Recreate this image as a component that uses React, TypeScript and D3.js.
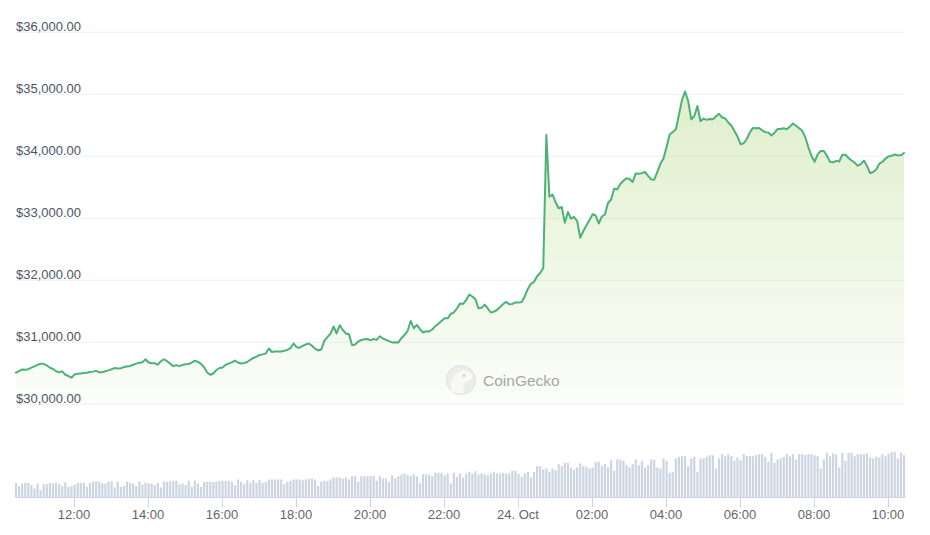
import React from 'react';
import * as d3 from 'd3';

// BTC price (USD), 5-minute steps starting 23 Oct 10:26 (UTC-like clock)
const prices: number[] = [
  30510, 30537, 30563, 30556, 30566, 30590, 30613, 30637, 30655, 30652,
  30626, 30592, 30569, 30532, 30516, 30531, 30477, 30456, 30429, 30482,
  30492, 30498, 30503, 30508, 30521, 30527, 30539, 30515, 30516, 30534,
  30547, 30565, 30584, 30579, 30581, 30600, 30611, 30618, 30639, 30656,
  30669, 30679, 30727, 30674, 30661, 30661, 30640, 30694, 30727, 30695,
  30656, 30615, 30632, 30615, 30635, 30647, 30650, 30671, 30703, 30684,
  30653, 30598, 30513, 30476, 30497, 30553, 30585, 30595, 30637, 30660,
  30676, 30706, 30674, 30658, 30666, 30682, 30718, 30747, 30769, 30795,
  30805, 30819, 30900, 30844, 30853, 30853, 30850, 30863, 30876, 30905,
  30981, 30921, 30913, 30942, 30968, 30979, 30944, 30897, 30868, 30885,
  31024, 31082, 31140, 31255, 31142, 31276, 31198, 31142, 31129, 30952,
  30965, 31013, 31037, 31050, 31053, 31032, 31053, 31039, 31098, 31061,
  31040, 31018, 30998, 31002, 30998, 31066, 31118, 31182, 31344, 31227,
  31279, 31215, 31158, 31177, 31174, 31206, 31260, 31298, 31344, 31387,
  31387, 31458, 31481, 31545, 31624, 31618, 31682, 31769, 31739, 31694,
  31548, 31556, 31608, 31547, 31481, 31494, 31521, 31569, 31618, 31652,
  31613, 31618, 31645, 31640, 31650, 31740, 31860, 31944, 31973, 32066,
  32118, 32198, 34344, 33348, 33384, 33258, 33163, 33182, 32929, 33102,
  32994, 33021, 32956, 32687, 32795, 32884, 32973, 33065, 33045, 32916,
  33029, 33061, 33247, 33303, 33476, 33469, 33553, 33605, 33647, 33634,
  33585, 33724, 33718, 33729, 33750, 33684, 33627, 33623, 33747, 33879,
  33964, 34150, 34352, 34392, 34432, 34666, 34908, 35045, 34892, 34598,
  34650, 34811, 34565, 34608, 34587, 34602, 34598, 34642, 34685, 34629,
  34610, 34545, 34497, 34410, 34319, 34195, 34211, 34279, 34384, 34458,
  34452, 34456, 34419, 34390, 34382, 34337, 34381, 34440, 34439, 34453,
  34437, 34479, 34529, 34492, 34453, 34411, 34305, 34145, 34005, 33911,
  34031, 34085, 34085, 34008, 33911, 33902, 33926, 33915, 34027, 34027,
  33973, 33932, 33898, 33848, 33873, 33931, 33844, 33731, 33747, 33787,
  33881, 33911, 33964, 33998, 34010, 34029, 34015, 34016, 34053,
];

// Volume bars (billions USD, rolling), same time steps
const volumes: number[] = [
  14.7, 11.3, 14, 14.7, 14.7, 12.3, 9, 14, 7.3, 13.3,
  13.3, 14.7, 14, 14.7, 13.3, 11.3, 15.3, 10.7, 11.3, 13,
  14.7, 14.7, 14.7, 10.7, 14.7, 16, 16, 16, 14, 14,
  16, 16, 10, 16, 10.7, 11.3, 15.7, 14.7, 14, 11.3,
  16, 13, 14.7, 14, 14, 12.3, 14.7, 10, 16, 15.7,
  16, 16.7, 16.7, 13, 14, 12.3, 16.7, 10.7, 16.7, 14,
  10.7, 15.7, 15.7, 15.7, 15.7, 15.7, 16.7, 16.7, 16.7, 16.7,
  15.7, 12.3, 18, 15.7, 13.3, 17.3, 14.7, 17.3, 14.7, 17.3,
  14.7, 15.7, 18, 18, 18, 18, 18, 13.3, 15.7, 16.7,
  18, 18, 18, 17.3, 18, 18.7, 19, 18,
  11.3, 15.7, 16.7, 16.7, 18, 20, 20, 20, 19, 20,
  18, 21.3, 21.3, 15.7, 21.3, 21.3, 21.3, 21.3, 21.3, 16.7,
  21.3, 19, 19, 15.7, 22.3, 19, 21.3, 23, 24, 22.3,
  21.3, 23.3, 21.3, 14.7, 23.3, 23.3, 23, 21.3, 24.7, 24.7,
  24.7, 22.3, 24, 14, 24.7, 20.7, 24, 20, 24, 25.7,
  24, 26.3, 23, 24, 23.3, 22.3, 24, 25.7, 24, 24,
  24.7, 24, 24, 26.7, 26.7, 23.3, 20.7, 24, 25.7, 20,
  25.7, 31.3, 31.3, 28, 29, 25.7, 29, 27.3, 33.3, 31.3,
  34.7, 34.7, 30, 28, 30, 34, 31.3, 30.7, 29, 30,
  35.7, 35.7, 31.3, 33.3, 30, 37.3, 26.7, 38, 38, 36.7,
  32.3,
  30, 33.3, 38, 32.3, 36.7, 30, 32.3, 38, 38,
  30, 29, 39, 36.7, 24.7, 25.7, 39, 40.7, 41.3, 41.3,
  31.3, 39, 40.7, 25.7, 39, 39, 40.7, 42.3, 42.3, 29,
  39, 43.3, 41.3, 43.3, 41.3, 36.7, 40, 37.3, 43.3, 41.3,
  41.3, 41.3, 42.3, 43.3, 43.3, 40.7, 35.7, 44.7, 34.7, 38,
  39, 40.7, 43.3, 41.3, 43.3, 38, 43.3, 43.3, 42.3, 43.3,
  43.3, 42.3, 41.3, 29, 38, 44.7, 41.3, 44, 43.3, 30,
  44.7, 36.7, 44.7, 44.7, 41.3, 43.3, 43.3, 43.3, 44, 40,
  39, 40.7, 40, 43.3, 41.3, 44, 45.7, 45.7, 39, 44.7,
  42.3,
];

const priceTicks: number[] = [30000, 31000, 32000, 33000, 34000, 35000, 36000];
const startUtc = Date.UTC(2023, 9, 23, 10, 26);
const stepMinutes = 5;

type Pt = { t: Date; p: number; v: number };

export default function App() {
  const W = 930;
  const H = 535;
  const left = 16;
  const right = 904;
  const gridRight = 905;

  const data: Pt[] = prices.map((p, i) => ({
    t: new Date(startUtc + i * stepMinutes * 60000),
    p,
    v: volumes[i] ?? 0,
  }));

  const x = d3
    .scaleUtc()
    .domain([data[0].t, data[data.length - 1].t])
    .range([left, right]);
  const y = d3.scaleLinear().domain([30000, 36000]).range([404.3, 32.3]);
  const yv = d3.scaleLinear().domain([0, 60]).range([497.5, 437.5]);

  const linePath = d3
    .line<Pt>()
    .x((d) => x(d.t))
    .y((d) => y(d.p))(data) as string;
  const areaPath = d3
    .area<Pt>()
    .x((d) => x(d.t))
    .y0(y(30000))
    .y1((d) => y(d.p))(data) as string;

  const xTicks = x.ticks(d3.utcHour.every(2) as any);
  const fmtTick = (d: Date) =>
    d.getUTCHours() === 0 && d.getUTCMinutes() === 0
      ? d3.utcFormat('%-d. %b')(d)
      : d3.utcFormat('%H:%M')(d);
  const fmtPrice = (v: number) => '$' + d3.format(',.2f')(v);

  const font = "'Liberation Sans', Arial, Helvetica, sans-serif";

  return (
    <svg
      width={W}
      height={H}
      style={{ position: 'absolute', left: 0, top: 0, background: '#ffffff' }}
    >
      <defs>
        <linearGradient id="areaFill" x1="0" y1="0" x2="0" y2="1" gradientUnits="objectBoundingBox">
          <stop offset="0%" stopColor="#8dc647" stopOpacity={0.28} />
          <stop offset="100%" stopColor="#8dc647" stopOpacity={0.03} />
        </linearGradient>
      </defs>

      {/* grid lines */}
      {priceTicks.map((v) => (
        <line
          key={'g' + v}
          x1={left}
          x2={gridRight}
          y1={y(v)}
          y2={y(v)}
          stroke="#eef0f5"
          strokeWidth={1}
        />
      ))}

      {/* area + line */}
      <path d={areaPath} fill="url(#areaFill)" />
      <path
        d={linePath}
        fill="none"
        stroke="#4cb278"
        strokeWidth={2}
        strokeLinejoin="round"
        strokeLinecap="round"
      />

      {/* y labels */}
      {priceTicks.map((v) => (
        <text
          key={'l' + v}
          x={left}
          y={y(v) - 1.5}
          fontFamily={font}
          fontSize={13}
          fill="#4b5565"
        >
          {fmtPrice(v)}
        </text>
      ))}

      {/* watermark */}
      <g opacity={0.9}>
        <circle cx={461} cy={380} r={14.5} fill="#ebebeb" stroke="#dcdcdc" strokeWidth={1} />
        <path
          d="M451,391 C450,383 452,373 462,371 C468,370 472,373 472,377 C472,380 468,381 465,382 C463,384 463,388 464,393 C460,394 455,393 451,391 Z"
          fill="#f8f8f8"
        />
        <circle cx={464} cy={375.5} r={1.6} fill="#cfcfcf" />
        <text x={483} y={385.5} fontFamily={font} fontSize={15.5} fill="#9d9d9d">
          CoinGecko
        </text>
      </g>

      {/* volume bars */}
      {data.map((d, i) => (
        <rect
          key={'v' + i}
          x={x(d.t) - 1.1}
          y={yv(d.v)}
          width={2.2}
          height={yv(0) - yv(d.v)}
          fill="#cdd4e2"
        />
      ))}

      {/* x axis */}
      <line x1={left} x2={gridRight} y1={497.5} y2={497.5} stroke="#ccd6eb" strokeWidth={1} />
      {xTicks.map((t) => (
        <g key={'t' + t.getTime()}>
          <line
            x1={Math.round(x(t)) + 0.5}
            x2={Math.round(x(t)) + 0.5}
            y1={497.5}
            y2={507.5}
            stroke="#ccd6eb"
            strokeWidth={1}
          />
          <text
            x={x(t)}
            y={519}
            textAnchor="middle"
            fontFamily={font}
            fontSize={13}
            fill="#666666"
          >
            {fmtTick(t)}
          </text>
        </g>
      ))}
    </svg>
  );
}
